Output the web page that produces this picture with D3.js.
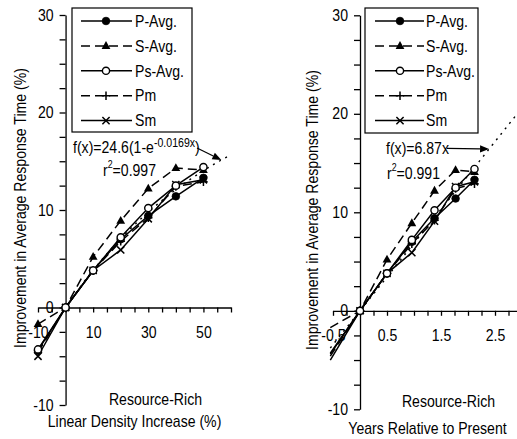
<!DOCTYPE html>
<html>
<head>
<meta charset="utf-8">
<script src="https://cdn.jsdelivr.net/npm/d3@7"></script>
<style>
  body { margin: 0; background: #fff; }
  svg { display: block; }
</style>
</head>
<body>
<svg id="chart" width="517" height="439"></svg>
<script>
// x positions: linear density increase (%) and the same steps expressed in years
const densityIncrease = [-10, 0, 10, 20, 30, 40, 50];
const yearsRelative   = [-0.55, 0, 0.5, 0.96, 1.38, 1.77, 2.12];

// improvement in average response time (%) for each configuration
const pAvg  = [-4.4, 0, 3.8, 7.0, 9.4, 11.4, 13.3];
const sAvg  = [-1.7, 0, 5.2, 8.9, 12.2, 14.3, 14.1];
const psAvg = [-4.3, 0, 3.8, 7.2, 10.2, 12.5, 14.4];
const pm    = [-4.6, 0, 3.8, 6.8, 9.2, 12.4, 12.9];
const sm    = [-5.0, 0, 3.8, 5.9, 9.1, 12.6, 13.1];

const seriesNames = ["P-Avg.", "S-Avg.", "Ps-Avg.", "Pm", "Sm"];

// tick labels
const yTickLabels       = [-10, 0, 10, 20, 30];
const densityTickLabels = [-10, 10, 30, 50];
const yearsTickLabels   = [-0.5, 0.5, 1.5, 2.5];

// fitted curves
const expFitScale = 24.6, expFitRate = 0.0169, expFitR2 = "0.997";
const linFitSlope = 6.87, linFitR2 = "0.991";

const FONT = '"Liberation Sans", Arial, Helvetica, sans-serif';
const SX = 0.88;           // lettering is slightly condensed
const LW = 1.5;

const svg = d3.select("#chart");

function text(g, x, y, str, o = {}) {
  const t = g.append("text")
    .attr("transform", `translate(${x},${y})` + (o.rotate ? ` rotate(${o.rotate})` : "") + ` scale(${SX},1)`)
    .attr("text-anchor", o.anchor || "start")
    .attr("font-family", FONT)
    .attr("font-size", o.size || 16)
    .attr("fill", "#000");
  if (str != null) t.text(str);
  return t;
}

// marker shapes
const markerDefs = {
  fillCircle: g => g.append("circle").attr("r", 3.8).attr("fill", "#000").attr("stroke", "#000").attr("stroke-width", 0.8),
  triangle:   g => g.append("path").attr("d", "M0,-4.8L4.4,3L-4.4,3Z").attr("fill", "#000"),
  openCircle: g => g.append("circle").attr("r", 3.6).attr("fill", "#fff").attr("stroke", "#000").attr("stroke-width", 1.4),
  plus:       g => g.append("path").attr("d", "M-4.2,0H4.2M0,-4.2V4.2").attr("stroke", "#000").attr("stroke-width", 1.5).attr("fill", "none"),
  cross:      g => g.append("path").attr("d", "M-3.6,-3.6L3.6,3.6M-3.6,3.6L3.6,-3.6").attr("stroke", "#000").attr("stroke-width", 1.5).attr("fill", "none")
};

const seriesValues = [pAvg, sAvg, psAvg, pm, sm];
const seriesStyle = [
  { dash: null,  marker: "fillCircle" },
  { dash: "9,5", marker: "triangle" },
  { dash: null,  marker: "openCircle" },
  { dash: "9,5", marker: "plus" },
  { dash: null,  marker: "cross" }
];
const drawOrder = [1, 3, 4, 0, 2];

const panels = [
  {
    xs: densityIncrease,
    xDomain: [-10, 60], xRange: [38, 231], yRange: [405, 15],
    xTicks: d3.range(-10, 60.01, 5), xLabels: densityTickLabels,
    fit: x => expFitScale * (1 - Math.exp(-expFitRate * x)),
    fitDomain: [-10, 60], arrowAt: 56.5,
    legend: { x0: 72, x1: 192, y0: 8, y1: 132, l0: 81, l1: 132, m: 106, tx: 135 },
    yTitleX: 26, yTitleY: 208,
    xTitle: "Linear Density Increase (%)", xTitleY: 427, subY: 405,
    fitLabel: { x: 73, y: 152.5, from: [197, 148] },
    r2Label: { x: 103, y: 176, value: expFitR2 }
  },
  {
    xs: yearsRelative,
    xDomain: [-0.5, 3], xRange: [333, 522], yRange: [409.3, 15.3],
    xTicks: d3.range(-0.5, 3.001, 0.25), xLabels: yearsTickLabels,
    fit: x => linFitSlope * x,
    fitDomain: [-0.55, 3], arrowAt: 2.39,
    legend: { x0: 365, x1: 478, y0: 8, y1: 133, l0: 375, l1: 424, m: 400, tx: 426 },
    yTitleX: 317.5, yTitleY: 210,
    xTitle: "Years Relative to Present", xTitleY: 434, subY: 407,
    fitLabel: { x: 386, y: 154, from: [447, 148.4] },
    r2Label: { x: 387, y: 179, value: linFitR2 }
  }
];

panels.forEach(p => {
  const g = svg.append("g");
  const x = d3.scaleLinear().domain(p.xDomain).range(p.xRange);
  const y = d3.scaleLinear().domain([-10, 30]).range(p.yRange);
  const x0 = x(0), y0 = y(0);

  // y axis
  const yAxis = g.append("g").attr("transform", `translate(${x0},0)`)
    .call(d3.axisLeft(y).tickValues(d3.range(-10, 30.01, 2.5))
      .tickFormat(v => yTickLabels.includes(v) ? String(v) : "")
      .tickSize(6).tickPadding(6).tickSizeOuter(0));
  // x axis
  const xAxis = g.append("g").attr("transform", `translate(0,${y0})`)
    .call(d3.axisBottom(x).tickValues(p.xTicks)
      .tickFormat(v => p.xLabels.some(l => Math.abs(l - v) < 1e-9) ? String(v) : "")
      .tickSize(5).tickPadding(14).tickSizeOuter(0));

  [yAxis, xAxis].forEach(a => {
    a.attr("font-family", FONT).attr("font-size", 16);
    a.selectAll("path.domain, line").attr("stroke", "#000").attr("stroke-width", 1.3);
    a.selectAll("text").attr("fill", "#000").each(function () {
      const t = d3.select(this);
      const tx = +t.attr("x") || 0;
      t.attr("x", tx / SX).attr("transform", `scale(${SX},1)`);
    });
  });
  xAxis.selectAll("text").attr("dy", "0.72em");

  // fitted curve (dotted)
  const fitXs = d3.range(0, 201).map(i => p.fitDomain[0] + (p.fitDomain[1] - p.fitDomain[0]) * i / 200);
  g.append("path")
    .attr("d", d3.line().x(v => x(v)).y(v => y(p.fit(v)))(fitXs))
    .attr("fill", "none").attr("stroke", "#000").attr("stroke-width", 1.4)
    .attr("stroke-dasharray", "2,5");

  // series
  drawOrder.forEach(si => {
    const vals = seriesValues[si], st = seriesStyle[si];
    const pts = p.xs.map((xv, i) => [xv, vals[i]]);
    g.append("path")
      .attr("d", d3.line().x(d => x(d[0])).y(d => y(d[1]))(pts))
      .attr("fill", "none").attr("stroke", "#000").attr("stroke-width", LW)
      .attr("stroke-dasharray", st.dash);
    pts.filter(d => d[0] >= p.xDomain[0] - 1e-9).forEach(d => {
      const mg = g.append("g").attr("transform", `translate(${x(d[0])},${y(d[1])})`);
      markerDefs[st.marker](mg);
    });
  });

  // legend
  const L = p.legend;
  g.append("rect").attr("x", L.x0).attr("y", L.y0)
    .attr("width", L.x1 - L.x0).attr("height", L.y1 - L.y0)
    .attr("fill", "#fff").attr("stroke", "#000").attr("stroke-width", 1.2);
  seriesNames.forEach((name, i) => {
    const ry = 21 + i * 24.9, st = seriesStyle[i];
    g.append("line").attr("x1", L.l0).attr("x2", L.l1).attr("y1", ry).attr("y2", ry)
      .attr("stroke", "#000").attr("stroke-width", LW).attr("stroke-dasharray", st.dash);
    markerDefs[st.marker](g.append("g").attr("transform", `translate(${L.m},${ry})`));
    text(g, L.tx, ry + 5.7, name);
  });

  // axis titles
  text(g, p.yTitleX, p.yTitleY, "Improvement in Average Response Time (%)", { rotate: -90, anchor: "middle" });
  const xMid = (p.xRange[0] + p.xRange[1]) / 2;
  text(g, xMid, p.xTitleY, p.xTitle, { anchor: "middle" });
  text(g, xMid + 21, p.subY, "Resource-Rich", { anchor: "middle" });

  // fit equation with arrow to the curve
  const fl = text(g, p.fitLabel.x, p.fitLabel.y, null);
  if (p === panels[0]) {
    fl.append("tspan").text(`f(x)=${expFitScale}(1-e`);
    fl.append("tspan").attr("font-size", 12).attr("dy", -6).text(`-${expFitRate}x`);
    fl.append("tspan").attr("dy", 6).text(")");
  } else {
    fl.text(`f(x)=${linFitSlope}x`);
  }
  const tip = [x(p.arrowAt), y(p.fit(p.arrowAt))];
  const from = p.fitLabel.from;
  const ang = Math.atan2(tip[1] - from[1], tip[0] - from[0]);
  const hl = 9, hw = 3.6;
  const base = [tip[0] - hl * Math.cos(ang), tip[1] - hl * Math.sin(ang)];
  g.append("line").attr("x1", from[0]).attr("y1", from[1]).attr("x2", base[0]).attr("y2", base[1])
    .attr("stroke", "#000").attr("stroke-width", 1.2);
  g.append("path")
    .attr("d", `M${tip[0]},${tip[1]}L${base[0] - hw * Math.sin(ang)},${base[1] + hw * Math.cos(ang)}L${base[0] + hw * Math.sin(ang)},${base[1] - hw * Math.cos(ang)}Z`)
    .attr("fill", "#000");

  // coefficient of determination
  const r2 = text(g, p.r2Label.x, p.r2Label.y, null);
  r2.append("tspan").text("r");
  r2.append("tspan").attr("font-size", 10).attr("dy", -8.5).text("2");
  r2.append("tspan").attr("dy", 8.5).text("=" + p.r2Label.value);
});
</script>
</body>
</html>
